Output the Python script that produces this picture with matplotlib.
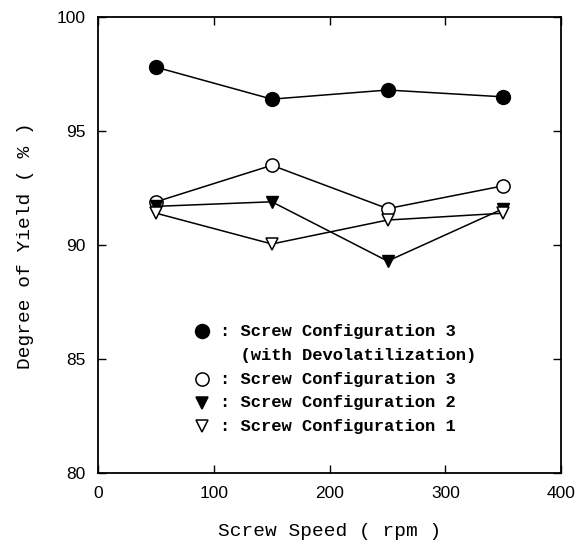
import matplotlib.pyplot as plt

# screw speed (rpm)
speed = [50, 150, 250, 350]

# degree of yield (%)
cfg3_devol = [97.8, 96.4, 96.8, 96.5]
cfg3 = [91.9, 93.5, 91.6, 92.6]
cfg2 = [91.7, 91.9, 89.3, 91.6]
cfg1 = [91.4, 90.05, 91.1, 91.4]

legend_labels = [': Screw Configuration 3',
                 '  (with Devolatilization)',
                 ': Screw Configuration 3',
                 ': Screw Configuration 2',
                 ': Screw Configuration 1']

mono = 'Liberation Mono'
sans = 'Liberation Sans'

fig = plt.figure(figsize=(5.81, 5.49), dpi=100)
ax = fig.add_axes([0.169, 0.138, 0.797, 0.831])

ax.plot(speed, cfg3_devol, 'k-', marker='o', markersize=10, mfc='black', lw=1.1)
ax.plot(speed, cfg3, 'k-', marker='o', markersize=9.5, mfc='white', mew=1.1, lw=1.1)
ax.plot(speed, cfg2, 'k-', marker='v', markersize=9, mfc='black', lw=1.1)
ax.plot(speed, cfg1, 'k-', marker='v', markersize=9, mfc='white', mew=1.1, lw=1.1)

ax.set_xlim(0, 400)
ax.set_ylim(80, 100)
ax.set_xticks([0, 100, 200, 300, 400])
ax.set_yticks([80, 85, 90, 95, 100])
ax.tick_params(direction='in', length=6, width=1, top=True, right=True, pad=9,
               labelsize=12.5)
for lab in ax.get_xticklabels() + ax.get_yticklabels():
    lab.set_fontfamily(sans)
for s in ax.spines.values():
    s.set_linewidth(1.3)

ax.set_xlabel('Screw Speed ( rpm )', fontfamily=mono, fontsize=14, labelpad=16)
ax.set_ylabel('Degree of Yield ( % )', fontfamily=mono, fontsize=14, labelpad=16)

# hand-made legend block
markers = [('o', 'black', 10), (None, None, 0), ('o', 'white', 9.5),
           ('v', 'black', 9), ('v', 'white', 9)]
rows_y = [0.311, 0.259, 0.206, 0.154, 0.103]
for (m, fc, ms), lab, yy in zip(markers, legend_labels, rows_y):
    if m:
        ax.plot([0.2246], [yy], marker=m, markersize=ms, mfc=fc, mec='black',
                mew=1.1, transform=ax.transAxes, clip_on=False)
    ax.text(0.262, yy, lab, transform=ax.transAxes, fontfamily=mono,
            fontsize=12.3, fontweight='bold', va='center', ha='left')

fig.savefig('out.png', dpi=100)
